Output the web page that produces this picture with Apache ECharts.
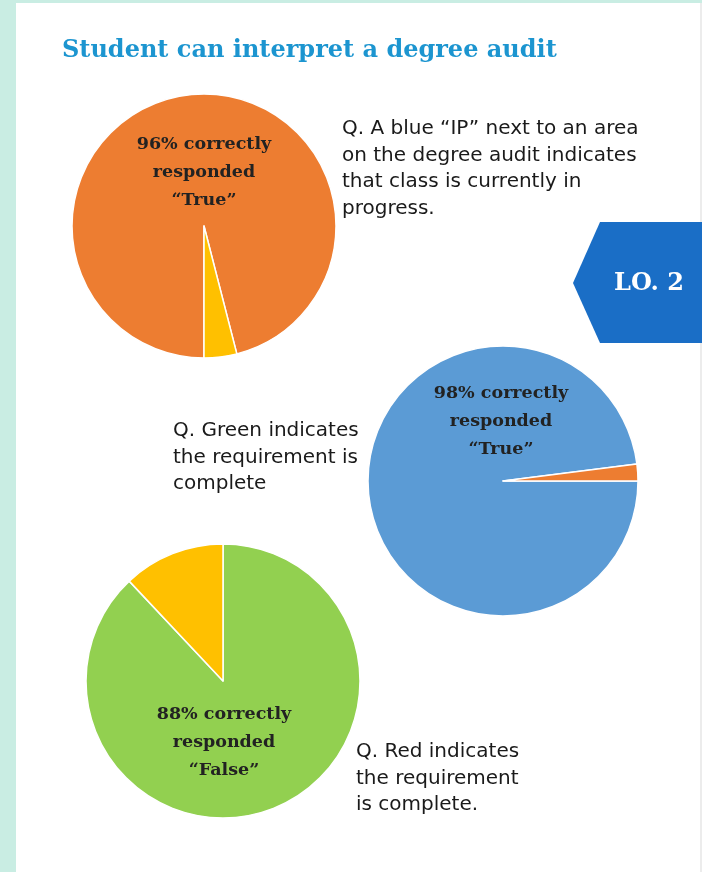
<!DOCTYPE html>
<html>
<head>
<meta charset="utf-8">
<script src="https://cdn.jsdelivr.net/npm/echarts@6/dist/echarts.min.js"></script>
<style>
html,body{margin:0;padding:0;background:#c9ede3;}
#chart{width:702px;height:872px;}
</style>
</head>
<body>
<div id="chart"></div>
<script>
// ---- data ----
var chartTitle = 'Student can interpret a degree audit';
var badgeText = 'LO. 2';

var pie1Names = ['Correct', 'Incorrect'];
var pie1Values = [96, 4];
var pie1Label = ['96% correctly', 'responded', '\u201cTrue\u201d'];
var pie1Question = ['Q. A blue \u201cIP\u201d next to an area', 'on the degree audit indicates', 'that class is currently in', 'progress.'];

var pie2Names = ['Correct', 'Incorrect'];
var pie2Values = [98, 2];
var pie2Label = ['98% correctly', 'responded', '\u201cTrue\u201d'];
var pie2Question = ['Q. Green indicates', 'the requirement is', 'complete'];

var pie3Names = ['Correct', 'Incorrect'];
var pie3Values = [88, 12];
var pie3Label = ['88% correctly', 'responded', '\u201cFalse\u201d'];
var pie3Question = ['Q. Red indicates', 'the requirement', 'is complete.'];

// ---- styling ----
var ORANGE = '#ED7D31', YELLOW = '#FFC000', BLUE = '#5B9BD5', GREEN = '#92D050';
var QFONT = '20px "DejaVu Sans", Verdana, sans-serif';
var LFONT = 'bold 17.5px "DejaVu Serif", serif';

function toData(names, values, colors) {
  return names.map(function (n, i) {
    return { name: n, value: values[i], itemStyle: { color: colors[i] } };
  });
}

function pieSeries(center, radius, startAngle, data) {
  return {
    type: 'pie',
    center: center,
    radius: [0, radius],
    startAngle: startAngle,
    clockwise: true,
    silent: true,
    animation: false,
    label: { show: false },
    labelLine: { show: false },
    itemStyle: { borderColor: '#ffffff', borderWidth: 1.5 },
    data: data
  };
}

function textEl(lines, x, y, font, color, align, lh) {
  return {
    type: 'text',
    z: 100,
    x: x, y: y,
    style: {
      text: lines.join('\n'),
      font: font,
      fill: color,
      textAlign: align,
      textVerticalAlign: 'top',
      lineHeight: lh
    }
  };
}

var chart = echarts.init(document.getElementById('chart'), null, { renderer: 'canvas' });
chart.setOption({
  backgroundColor: '#c9ede3',
  animation: false,
  graphic: [
    { type: 'rect', z: -10, shape: { x: 16, y: 3, width: 684, height: 869 }, style: { fill: '#ffffff' } },
    { type: 'rect', z: -10, shape: { x: 700, y: 3, width: 2, height: 869 }, style: { fill: '#ececec' } },
    { type: 'text', z: 100, x: 62, y: 51,
      style: { text: chartTitle, font: 'bold 24px "DejaVu Serif", serif', fill: '#1c95d0', textAlign: 'left', textVerticalAlign: 'middle' } },
    { type: 'polygon', z: 50, shape: { points: [[573, 283], [600, 222], [702, 222], [702, 343], [600, 343]] }, style: { fill: '#1a6ec6' } },
    { type: 'text', z: 100, x: 649, y: 284,
      style: { text: badgeText, font: 'bold 24px "DejaVu Serif", serif', fill: '#ffffff', textAlign: 'center', textVerticalAlign: 'middle' } },
    textEl(pie1Label, 204, 130, LFONT, '#222222', 'center', 28),
    textEl(pie2Label, 501, 379, LFONT, '#222222', 'center', 28),
    textEl(pie3Label, 224, 700, LFONT, '#222222', 'center', 28),
    textEl(pie1Question, 342, 116, QFONT, '#1a1a1a', 'left', 26.5),
    textEl(pie2Question, 173, 418, QFONT, '#1a1a1a', 'left', 26.5),
    textEl(pie3Question, 356, 739, QFONT, '#1a1a1a', 'left', 26.5)
  ],
  series: [
    pieSeries([204, 226], 132, 270, toData(pie1Names, pie1Values, [ORANGE, YELLOW])),
    pieSeries([503, 481], 135, 0, toData(pie2Names, pie2Values, [BLUE, ORANGE])),
    pieSeries([223, 681], 137, 90, toData(pie3Names, pie3Values, [GREEN, YELLOW]))
  ]
});
</script>
</body>
</html>
